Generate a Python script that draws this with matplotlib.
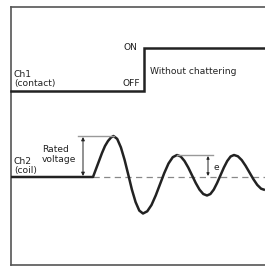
"""Relay contact / coil waveform sketch (Ch1 contact, Ch2 coil)."""

import matplotlib.pyplot as plt

# data (picture coordinates, y grows downward)
ch1_x = [11, 144, 144, 265]
ch1_y = [91, 91, 48, 48]

ch2_x = [11, 93, 96, 99, 102, 105, 108, 111,
         113.5, 117.2, 120.9, 124.6, 128.3, 131.9, 135.6, 139.3,
         143, 147.25, 151.5, 155.75, 160, 164.25, 168.5, 172.75,
         177, 180.75, 184.5, 188.25, 192, 195.75, 199.5, 203.25,
         207, 210.4, 213.75, 217.1, 220.5, 223.9, 227.25, 230.6,
         234, 237.9, 241.75, 245.6, 249.5, 253.4, 257.25, 261.1, 265]
ch2_y = [177, 177, 169, 161, 153, 146, 141, 137.5,
         136, 138.9, 147.4, 159.9, 174.75, 189.6, 202.1, 210.6,
         213.5, 211.3, 205, 195.4, 184.25, 173.1, 163.5, 157.2,
         155, 156.5, 161, 167.5, 175.25, 183, 189.6, 194,
         195.5, 194, 189.6, 183, 175.25, 167.5, 161, 156.5,
         155, 156.3, 160.1, 165.8, 172.5, 179.2, 184.9, 188.7, 190]

baseline_y = 177
rated_peak = (113.5, 136)
e_peak = (177, 155)

plt.rcParams['font.family'] = 'DejaVu Sans'
plt.rcParams['font.size'] = 6.6

fig = plt.figure(figsize=(2.65, 2.68), dpi=100)
ax = fig.add_axes([0, 0, 1, 1])
ax.set_xlim(0, 265)
ax.set_ylim(268, 0)
ax.axis('off')

# frame
fc = '#555555'
ax.plot([11, 11], [7, 265], color=fc, lw=1.2)
ax.plot([11, 265], [7, 7], color=fc, lw=1.2)
ax.plot([11, 265], [265, 265], color=fc, lw=1.2)

# Ch1 (contact)
ax.plot(ch1_x, ch1_y, color='#222222', lw=1.8, solid_joinstyle='miter')
ax.text(14, 88, 'Ch1\n(contact)', va='bottom', ha='left', linespacing=0.95, color='#222222')
ax.text(137, 47, 'ON', va='center', ha='right', color='#222222')
ax.text(140, 83, 'OFF', va='center', ha='right', color='#222222')
ax.text(150, 71, 'Without chattering', va='center', ha='left', color='#222222')

# Ch2 (coil)
ax.plot([93, 265], [baseline_y, baseline_y], color='#888888', lw=0.9, ls=(0, (5, 3.5)))
ax.plot(ch2_x, ch2_y, color='#222222', lw=1.8, solid_capstyle='butt')
ax.text(14, 174.5, 'Ch2\n(coil)', va='bottom', ha='left', linespacing=0.95, color='#222222')
ax.text(42, 145, 'Rated\nvoltage', va='top', ha='left', linespacing=1.2, color='#222222')
ax.text(213, 167, 'e', va='center', ha='left', color='#222222')

# rated voltage marker
ax.plot([78, rated_peak[0]], [rated_peak[1], rated_peak[1]], color='#999999', lw=1.0)
ax.annotate('', xy=(83, baseline_y - 1), xytext=(83, rated_peak[1] + 1),
            arrowprops=dict(arrowstyle='<|-|>', color='#222222', lw=0.7,
                            mutation_scale=5, shrinkA=0, shrinkB=0))

# e marker
ax.plot([e_peak[0], 213], [e_peak[1], e_peak[1]], color='#999999', lw=1.0)
ax.annotate('', xy=(208, baseline_y - 1), xytext=(208, e_peak[1] + 1),
            arrowprops=dict(arrowstyle='<|-|>', color='#222222', lw=0.7,
                            mutation_scale=4, shrinkA=0, shrinkB=0))

plt.savefig('out.png', dpi=100)
